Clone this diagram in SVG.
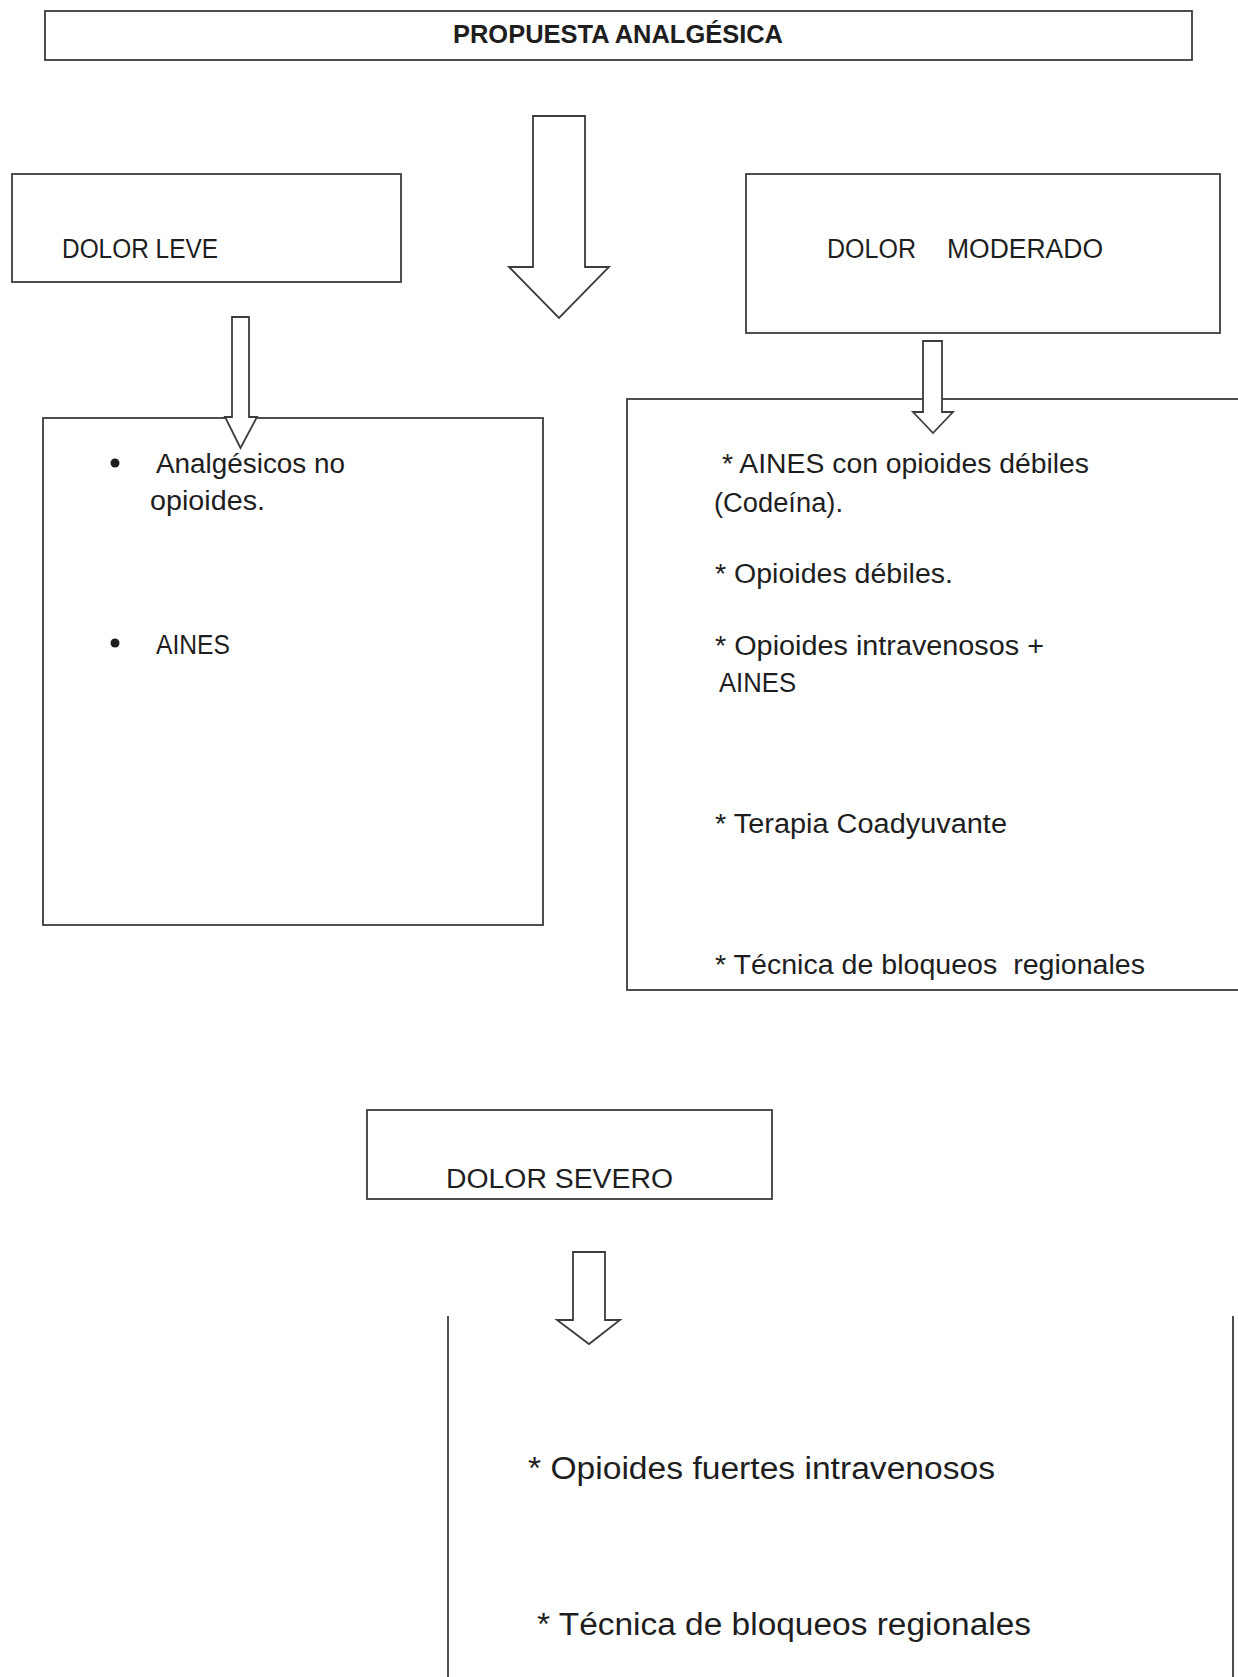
<svg xmlns="http://www.w3.org/2000/svg" width="1238" height="1677" viewBox="0 0 1238 1677">
<style>
.box{fill:#ffffff;stroke:#3c3c3c;stroke-width:1.8}
.ln{fill:none;stroke:#3c3c3c;stroke-width:1.8}
.arr{fill:#ffffff;stroke:#3c3c3c;stroke-width:1.8;stroke-linejoin:miter}
.t{font-family:"Liberation Sans",Arial,sans-serif;font-size:27px;fill:#1e1e1e;white-space:pre}
.h{font-weight:bold;font-size:25px}
.b{font-size:31px}
</style>
<rect width="1238" height="1677" fill="#ffffff"/>
<g id="titulo">
<rect class="box" x="45" y="11" width="1147" height="49"/>
<text class="t h" x="453" y="43" textLength="330" lengthAdjust="spacingAndGlyphs">PROPUESTA ANALGÉSICA</text>
</g>
<g id="dolor-leve">
<rect class="box" x="12" y="174" width="389" height="108"/>
<text class="t" x="62" y="258" textLength="156" lengthAdjust="spacingAndGlyphs">DOLOR LEVE</text>
</g>
<g id="dolor-moderado">
<rect class="box" x="746" y="174" width="474" height="159"/>
<text class="t" y="258"><tspan x="827" textLength="89" lengthAdjust="spacingAndGlyphs">DOLOR</tspan><tspan x="947" textLength="156" lengthAdjust="spacingAndGlyphs">MODERADO</tspan></text>
</g>
<g id="leve-tratamiento">
<rect class="box" x="43" y="418" width="500" height="507"/>
<circle cx="115" cy="463" r="4.5" fill="#1e1e1e"/>
<text class="t" x="156" y="473" textLength="189" lengthAdjust="spacingAndGlyphs">Analgésicos no</text>
<text class="t" x="150" y="510" textLength="115" lengthAdjust="spacingAndGlyphs">opioides.</text>
<circle cx="115" cy="643" r="4.5" fill="#1e1e1e"/>
<text class="t" x="156" y="654" textLength="74" lengthAdjust="spacingAndGlyphs">AINES</text>
</g>
<g id="moderado-tratamiento">
<rect class="box" x="627" y="399" width="630" height="591"/>
<text class="t" x="722" y="473" textLength="367" lengthAdjust="spacingAndGlyphs">* AINES con opioides débiles</text>
<text class="t" x="714" y="512" textLength="129" lengthAdjust="spacingAndGlyphs">(Codeína).</text>
<text class="t" x="715" y="583" textLength="238" lengthAdjust="spacingAndGlyphs">* Opioides débiles.</text>
<text class="t" x="715" y="655" textLength="329" lengthAdjust="spacingAndGlyphs">* Opioides intravenosos +</text>
<text class="t" x="719" y="692" textLength="77" lengthAdjust="spacingAndGlyphs">AINES</text>
<text class="t" x="715" y="833" textLength="292" lengthAdjust="spacingAndGlyphs">* Terapia Coadyuvante</text>
<text class="t" x="715" y="974" textLength="430" lengthAdjust="spacingAndGlyphs">* Técnica de bloqueos  regionales</text>
</g>
<g id="dolor-severo">
<rect class="box" x="367" y="1110" width="405" height="89"/>
<text class="t" x="446" y="1188" textLength="227" lengthAdjust="spacingAndGlyphs">DOLOR SEVERO</text>
</g>
<g id="severo-tratamiento">
<line class="ln" x1="448" y1="1316" x2="448" y2="1680"/>
<line class="ln" x1="1233" y1="1316" x2="1233" y2="1680"/>
<text class="t b" x="528" y="1479" textLength="467" lengthAdjust="spacingAndGlyphs">* Opioides fuertes intravenosos</text>
<text class="t b" x="537" y="1635" textLength="494" lengthAdjust="spacingAndGlyphs">* Técnica de bloqueos regionales</text>
</g>
<g id="conectores">
<polygon class="arr" points="533,116 585,116 585,267 609,267 559,318 509,267 533,267"/>
<polygon class="arr" points="232,317 249,317 249,417 257,417 240.5,448 225,417 232,417"/>
<polygon class="arr" points="923,341 942,341 942,412 953,412 933,433 913,412 923,412"/>
<polygon class="arr" points="573,1252 605,1252 605,1320 620,1320 589,1344 557,1320 573,1320"/>
</g>
</svg>
